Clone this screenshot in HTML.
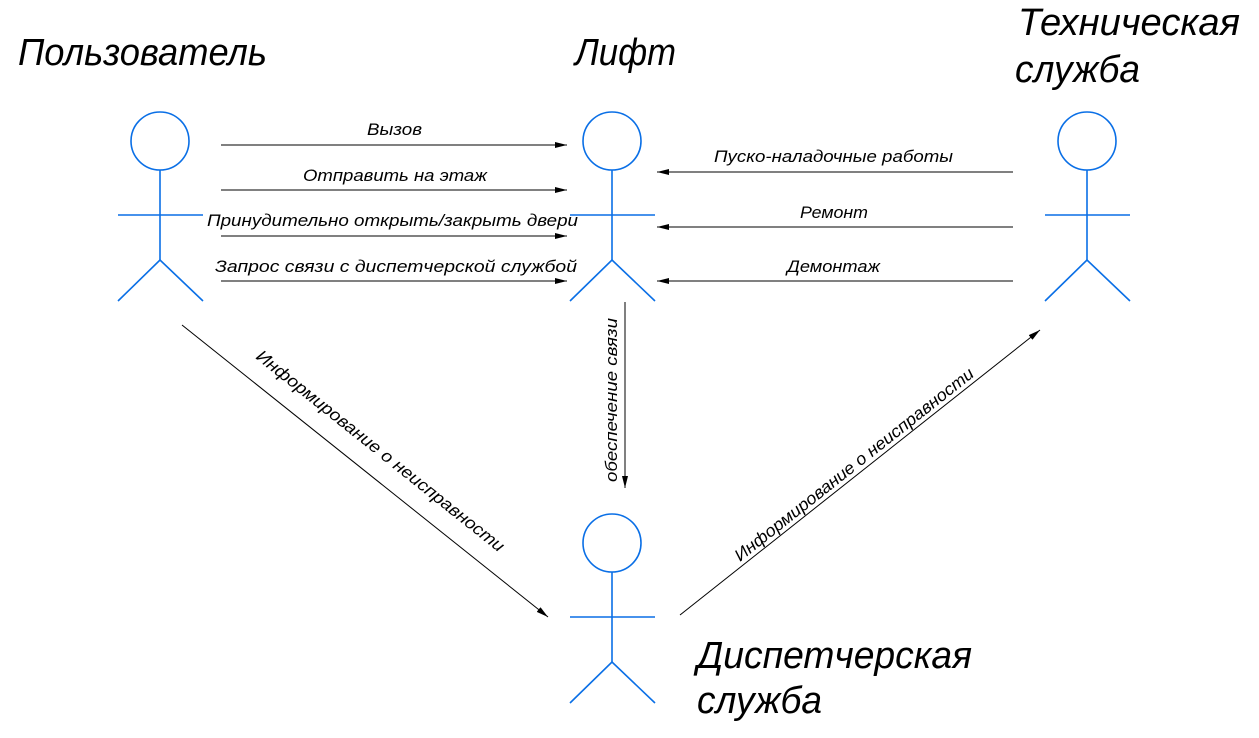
<!DOCTYPE html>
<html><head><meta charset="utf-8"><style>
html,body{margin:0;padding:0;background:#fff;}
svg{display:block;}
text{font-family:"Liberation Sans",sans-serif;font-style:italic;fill:#000;}
.a{stroke:#0a6fe6;stroke-width:1.6;fill:none;}
.l{stroke:#000;stroke-width:1;fill:none;}
</style></head><body>
<svg width="1259" height="738" viewBox="0 0 1259 738" xmlns="http://www.w3.org/2000/svg">
<defs>
<marker id="ar" markerWidth="12" markerHeight="6" refX="12" refY="3" orient="auto" markerUnits="userSpaceOnUse">
<path d="M0,0 L12,3 L0,6 z" fill="#000"/></marker>
</defs>
<!-- actors -->
<g class="a">
<circle cx="160" cy="141" r="29"/><line x1="160" y1="170" x2="160" y2="260"/><line x1="118" y1="215" x2="203" y2="215"/><path d="M118,301 L160,260 L203,301"/>
<circle cx="612" cy="141" r="29"/><line x1="612" y1="170" x2="612" y2="260"/><line x1="570" y1="215" x2="655" y2="215"/><path d="M570,301 L612,260 L655,301"/>
<circle cx="1087" cy="141" r="29"/><line x1="1087" y1="170" x2="1087" y2="260"/><line x1="1045" y1="215" x2="1130" y2="215"/><path d="M1045,301 L1087,260 L1130,301"/>
<circle cx="612" cy="543" r="29"/><line x1="612" y1="572" x2="612" y2="662"/><line x1="570" y1="617" x2="655" y2="617"/><path d="M570,703 L612,662 L655,703"/>
</g>
<!-- arrows -->
<g class="l" marker-end="url(#ar)">
<line x1="221" y1="145" x2="567" y2="145" marker-end="url(#ar)"/>
<line x1="221" y1="190" x2="567" y2="190" marker-end="url(#ar)"/>
<line x1="221" y1="236" x2="567" y2="236" marker-end="url(#ar)"/>
<line x1="221" y1="281" x2="567" y2="281" marker-end="url(#ar)"/>
<line x1="1013" y1="172" x2="657" y2="172" marker-end="url(#ar)"/>
<line x1="1013" y1="227" x2="657" y2="227" marker-end="url(#ar)"/>
<line x1="1013" y1="281" x2="657" y2="281" marker-end="url(#ar)"/>
<line x1="625" y1="302" x2="625" y2="488" marker-end="url(#ar)"/>
<line x1="182" y1="325" x2="548" y2="617" marker-end="url(#ar)"/>
<line x1="680" y1="615" x2="1040" y2="330" marker-end="url(#ar)"/>
</g>
<!-- titles -->
<g font-size="38">
<text x="18" y="65" textLength="249" lengthAdjust="spacingAndGlyphs">Пользователь</text>
<text x="575" y="65" textLength="101" lengthAdjust="spacingAndGlyphs">Лифт</text>
<text x="1018" y="35" textLength="222" lengthAdjust="spacingAndGlyphs">Техническая</text>
<text x="1015" y="82" textLength="125" lengthAdjust="spacingAndGlyphs">служба</text>
<text x="697" y="668" textLength="275" lengthAdjust="spacingAndGlyphs">Диспетчерская</text>
<text x="697" y="713" textLength="125" lengthAdjust="spacingAndGlyphs">служба</text>
</g>
<!-- labels -->
<g font-size="17">
<text x="367" y="135" textLength="55" lengthAdjust="spacingAndGlyphs">Вызов</text>
<text x="303" y="181" textLength="184" lengthAdjust="spacingAndGlyphs">Отправить на этаж</text>
<text x="207" y="226" textLength="371" lengthAdjust="spacingAndGlyphs">Принудительно открыть/закрыть двери</text>
<text x="215" y="272" textLength="362" lengthAdjust="spacingAndGlyphs">Запрос связи с диспетчерской службой</text>
<text x="714" y="162" textLength="239" lengthAdjust="spacingAndGlyphs">Пуско-наладочные работы</text>
<text x="800" y="218" textLength="68" lengthAdjust="spacingAndGlyphs">Ремонт</text>
<text x="787" y="272" textLength="93" lengthAdjust="spacingAndGlyphs">Демонтаж</text>
<text transform="translate(617,482) rotate(-90)" textLength="164" lengthAdjust="spacingAndGlyphs">обеспечение связи</text>
<text transform="translate(255,358) rotate(38.6)" textLength="312" lengthAdjust="spacingAndGlyphs">Информирование о неисправности</text>
<text transform="translate(740,562) rotate(-38.4)" textLength="300" lengthAdjust="spacingAndGlyphs">Информирование о неисправности</text>
</g>
</svg>
</body></html>
